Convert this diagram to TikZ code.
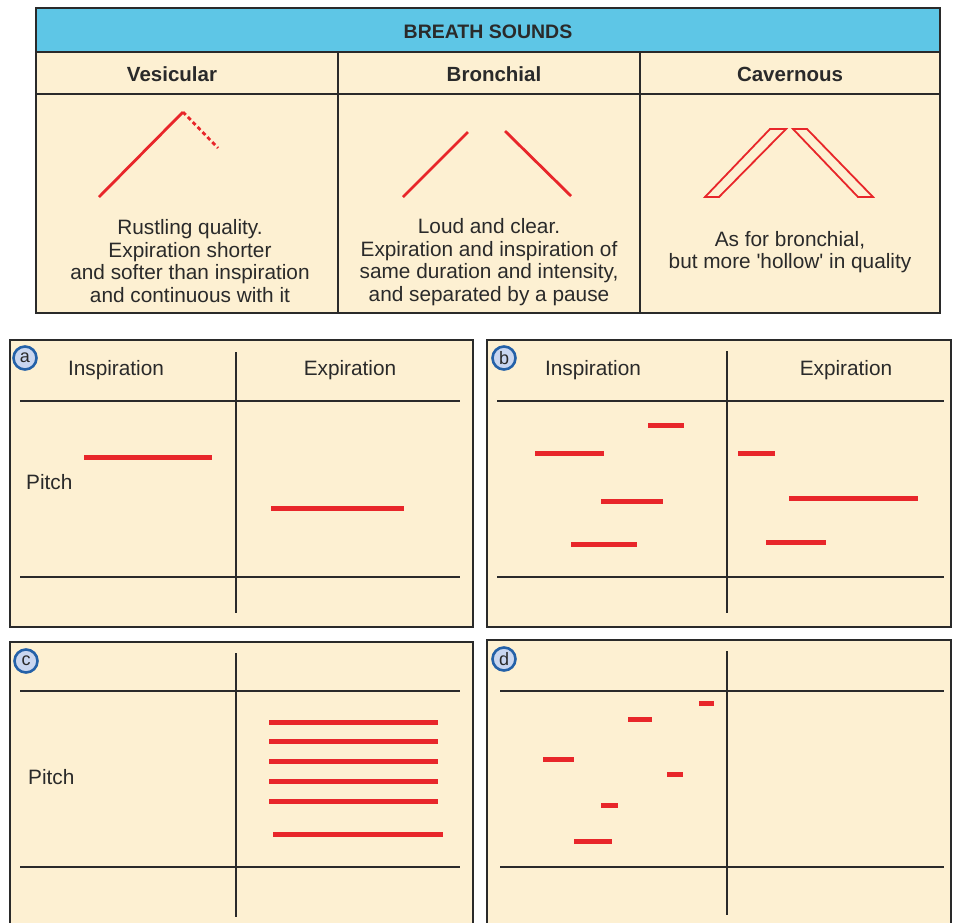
\documentclass[tikz,border=0pt]{standalone}
\usepackage{fontspec}
\setmainfont{Liberation Sans}[Ligatures=TeXOff]
\definecolor{cream}{HTML}{FDF0D2}
\definecolor{hdrblue}{HTML}{5EC6E6}
\definecolor{ink}{HTML}{2A2A2A}
\definecolor{rd}{HTML}{E8262A}
\definecolor{ringblue}{HTML}{2461A8}
\definecolor{discfill}{HTML}{C9D6F0}
\tikzset{
  frame/.style={draw=ink, line width=2.2pt},
  axis/.style={draw=ink, line width=2pt},
  redbar/.style={draw=rd, line width=5pt},
  redthin/.style={draw=rd, line width=2.8pt},
  redoutline/.style={draw=rd, line width=1.8pt, line join=miter},
  panelbox/.style={fill=cream, draw=ink, line width=2.4pt},
  hdr/.style={text=ink, font=\bfseries\fontsize{19.5}{21}\selectfont},
  coltitle/.style={text=ink, font=\bfseries\fontsize{20.5}{22}\selectfont},
  desc/.style={text=ink, align=center, font=\fontsize{20.8}{22.5}\selectfont},
  lbl/.style={text=ink, font=\fontsize{20.8}{22}\selectfont},
  disc/.style={circle, draw=ringblue, fill=discfill, line width=2.6pt, minimum size=23pt, inner sep=0pt, text=ink, font=\fontsize{18}{18}\selectfont}
}
\begin{document}
\begin{tikzpicture}[x=1pt,y=-1pt]
\useasboundingbox (0,0) rectangle (953,922);
\clip (0,0) rectangle (953,922);
\fill[white] (0,0) rectangle (953,922);

% ---------- top table ----------
\fill[cream] (36,8) rectangle (940,313);
\fill[hdrblue] (36,8) rectangle (940,52);
\draw[frame] (36,8) rectangle (940,313);
\draw[frame] (36,52) -- (940,52);
\draw[frame] (36,94) -- (940,94);
\draw[frame] (338,52) -- (338,313);
\draw[frame] (640,52) -- (640,313);

\node[hdr] (title) at (488,32) {BREATH SOUNDS};
\node[coltitle] (ves) at (172,74) {Vesicular};
\node[coltitle] (bro) at (494,74) {Bronchial};
\node[coltitle] (cav) at (790,74) {Cavernous};

% vesicular
\draw[redthin] (99,197) -- (183,112);
\draw[redthin, dash pattern=on 4pt off 3pt] (183,112) -- (218,148);
\node[desc] (vesdesc) at (190,261) {Rustling quality.\\Expiration shorter\\and softer than inspiration\\and continuous with it};

% bronchial
\draw[redthin] (403,197) -- (468,132);
\draw[redthin] (505,131) -- (571,196);
\node[desc] (brodesc) at (489,262) {Loud and clear.\\Expiration and inspiration of\\same duration and intensity,\\and separated by a pause};

% cavernous
\draw[redoutline] (705,197) -- (719,197) -- (786,129) -- (770,129) -- cycle;
\draw[redoutline] (793,129) -- (807,129) -- (873,197) -- (858,197) -- cycle;
\node[desc] (cavdesc) at (790,252) {As for bronchial,\\but more 'hollow' in quality};

% ---------- panel a ----------
\draw[panelbox] (10,340) rectangle (473,627);
\draw[axis] (20,401) -- (460,401);
\draw[axis] (20,577) -- (460,577);
\draw[axis] (236,352) -- (236,613);
\node[disc] (da) at (25,358) {a};
\node[lbl] (ainsp) at (116,370) {Inspiration};
\node[lbl] (aexp) at (350,370) {Expiration};
\node[lbl, anchor=west, inner sep=0pt] (apitch) at (26,482) {Pitch};
\draw[redbar] (84,457) -- (212,457);
\draw[redbar] (271,508) -- (404,508);

% ---------- panel b ----------
\draw[panelbox] (487,340) rectangle (951,627);
\draw[axis] (497,401) -- (944,401);
\draw[axis] (497,577) -- (944,577);
\draw[axis] (727,351) -- (727,613);
\node[disc] (db) at (504,358) {b};
\node[lbl] (binsp) at (593,370) {Inspiration};
\node[lbl] (bexp) at (846,370) {Expiration};
\draw[redbar] (648,425) -- (684,425);
\draw[redbar] (535,453) -- (604,453);
\draw[redbar] (601,501) -- (663,501);
\draw[redbar] (571,544) -- (637,544);
\draw[redbar] (738,453) -- (775,453);
\draw[redbar] (789,498) -- (918,498);
\draw[redbar] (766,542) -- (826,542);

% ---------- panel c ----------
\draw[panelbox] (10,642) rectangle (473,935);
\draw[axis] (20,691) -- (460,691);
\draw[axis] (20,867) -- (460,867);
\draw[axis] (236,653) -- (236,917);
\node[disc] (dc) at (26,661) {c};
\node[lbl, anchor=west, inner sep=0pt] (cpitch) at (28,777) {Pitch};
\draw[redbar] (269,722) -- (438,722);
\draw[redbar] (269,741) -- (438,741);
\draw[redbar] (269,761) -- (438,761);
\draw[redbar] (269,781) -- (438,781);
\draw[redbar] (269,801) -- (438,801);
\draw[redbar] (273,834) -- (443,834);

% ---------- panel d ----------
\draw[panelbox] (487,640) rectangle (951,935);
\draw[axis] (500,691) -- (944,691);
\draw[axis] (500,867) -- (944,867);
\draw[axis] (727,651) -- (727,915);
\node[disc] (dd) at (504,659) {d};
\draw[redbar] (699,703) -- (714,703);
\draw[redbar] (628,719) -- (652,719);
\draw[redbar] (543,759) -- (574,759);
\draw[redbar] (667,774) -- (683,774);
\draw[redbar] (601,805) -- (618,805);
\draw[redbar] (574,841) -- (612,841);
\end{tikzpicture}
\end{document}
